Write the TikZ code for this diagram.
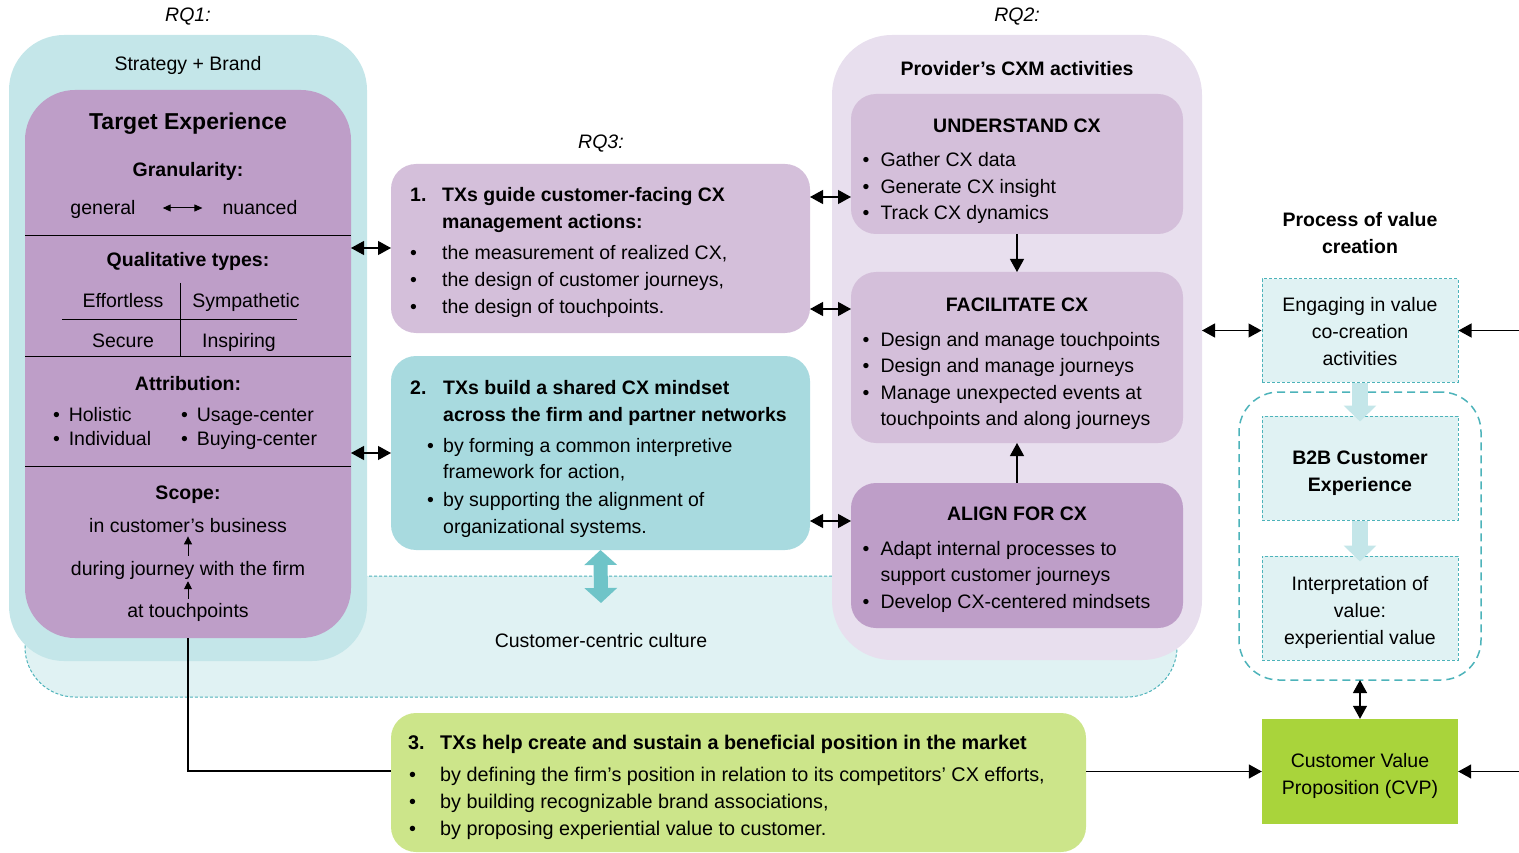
\documentclass[tikz,border=0pt]{standalone}
\usepackage{fontspec}
\setmainfont{Liberation Sans}
\usetikzlibrary{arrows.meta,positioning,calc}
\definecolor{sbteal}{HTML}{C4E6E9}
\definecolor{provbg}{HTML}{E8DFEE}
\definecolor{mauve}{HTML}{BE9EC8}
\definecolor{lilac}{HTML}{D4BFDA}
\definecolor{aqua}{HTML}{A8DADF}
\definecolor{lime}{HTML}{CCE58A}
\definecolor{grass}{HTML}{A9D43B}
\definecolor{cultfill}{HTML}{E0F2F3}
\definecolor{cult}{HTML}{4DB3BA}
\definecolor{fatteal}{HTML}{6FC4C8}
\tikzset{panel/.style={rounded corners=25pt,inner sep=0pt,outer sep=0pt},txt/.style={inner sep=0pt,anchor=base,font=\fontsize{19.5}{27}\selectfont},hd/.style={txt,font=\fontsize{19.5}{27}\selectfont\bfseries},lst/.style={txt,anchor=base west},plst/.style={lst,font=\fontsize{19.5}{26.5}\selectfont},pbox/.style={draw=cult,dash pattern=on 3pt off 2pt,line width=1pt,fill=cultfill,inner sep=0pt,minimum width=196pt,minimum height=104pt},link/.style={{Triangle[length=13pt,width=14pt]}-{Triangle[length=13pt,width=14pt]},line width=1.2pt},flow/.style={-{Triangle[length=13pt,width=14pt]},line width=1.2pt},tiny/.style={-{Triangle[length=8pt,width=8pt]},line width=1pt},tinyd/.style={{Triangle[length=8pt,width=7pt]}-{Triangle[length=8pt,width=7pt]},line width=1pt},fat/.style={line width=14pt,draw=fatteal,{Triangle[length=15pt,width=32pt]}-{Triangle[length=15pt,width=32pt]}},fatl/.style={line width=16pt,draw=sbteal,-{Triangle[length=16pt,width=32pt]}}}
\begin{document}
\begin{tikzpicture}[x=1pt,y=-1pt]
\useasboundingbox (0,0) rectangle (1519,853);
% back panels
\node[panel,rounded corners=50pt,fill=cultfill,draw=cult,dash pattern=on 3pt off 2pt,line width=1pt,minimum width=1152pt,minimum height=121pt] (cult) at (601,636.5) {};
\node[panel,rounded corners=55pt,fill=sbteal,minimum width=358pt,minimum height=626pt] (sb) at (188,348) {};
\node[panel,rounded corners=60pt,fill=provbg,minimum width=370pt,minimum height=625pt] (prov) at (1017,347.5) {};
\node[panel,rounded corners=50pt,fill=mauve,minimum width=326pt,minimum height=548pt] (te) at (188,364) {};
\node[panel,fill=lilac,minimum width=419pt,minimum height=169pt] (t1) at (600.5,248.5) {};
\node[panel,fill=aqua,minimum width=419pt,minimum height=194pt] (t2) at (600.5,453) {};
\node[panel,fill=lime,minimum width=695pt,minimum height=139pt] (t3) at (738.5,782.5) {};
\node[panel,fill=lilac,minimum width=332pt,minimum height=140pt] (und) at (1017,164) {};
\node[panel,fill=lilac,minimum width=332pt,minimum height=171pt] (fac) at (1017,357.5) {};
\node[panel,fill=mauve,minimum width=332pt,minimum height=145pt] (ali) at (1017,555.5) {};
\node[panel,rounded corners=40pt,draw=cult,dash pattern=on 8pt off 5pt,line width=1.5pt,minimum width=242pt,minimum height=288pt] (cont) at (1360,536) {};
\node[pbox,minimum height=103pt] (eng) at (1360,330.5) {};
\node[pbox] (b2b) at (1360,468) {};
\node[pbox] (interp) at (1360,608) {};
\node[fill=grass,inner sep=0pt,minimum width=196pt,minimum height=105pt] (cvp) at (1360,771.5) {};
% headings
\node[txt,font=\fontsize{19.5}{27}\selectfont\itshape] (rq1) at (188,22) {RQ1:};
\node[txt,font=\fontsize{19.5}{27}\selectfont\itshape] (rq2) at (1017,22) {RQ2:};
\node[txt,font=\fontsize{19.5}{27}\selectfont\itshape] (rq3) at (601,149) {RQ3:};
\node[txt] (sbt) at (188,71) {Strategy + Brand};
% target experience
\node[txt,font=\fontsize{23}{27}\selectfont\bfseries] (tet) at (188,130) {Target Experience};
\node[hd] (gra) at (188,177) {Granularity:};
\node[txt] (gen) at (103,215) {general};
\node[txt] (nua) at (260,215) {nuanced};
\draw[tinyd] ([xshift=27pt,yshift=7pt]gen.base east) -- ([xshift=-20pt,yshift=7pt]nua.base west);
\draw[line width=1pt] (te.west|-0,236) -- (te.east|-0,236);
\node[hd] (qual) at (188,267) {Qualitative types:};
\node[txt] (q1) at (123,308) {Effortless};
\node[txt] (q2) at (246,308) {Sympathetic};
\node[txt] (q3) at (123,348) {Secure};
\node[txt] (q4) at (239,348) {Inspiring};
\draw[line width=1pt] (180,283) -- (180,356) (62,319) -- (297,319);
\draw[line width=1pt] (te.west|-0,356) -- (te.east|-0,356);
\node[hd] (attr) at (188,390) {Attribution:};
\node[lst] (a1) at (53,421) {\textbullet\hspace{0.45em}Holistic};
\node[lst] (a2) at (53,445) {\textbullet\hspace{0.45em}Individual};
\node[lst] (a3) at (181,421) {\textbullet\hspace{0.45em}Usage-center};
\node[lst] (a4) at (181,445) {\textbullet\hspace{0.45em}Buying-center};
\draw[line width=1pt] (te.west|-0,466) -- (te.east|-0,466);
\node[hd] (scope) at (188,499) {Scope:};
\node[txt] (s1) at (188,532) {in customer's business};
\node[txt] (s2) at (188,575) {during journey with the firm};
\node[txt] (s3) at (188,617) {at touchpoints};
\draw[tiny] ([yshift=5pt]s2.north) -- ([yshift=-4pt]s1.south);
\draw[tiny] ([yshift=4pt]s3.north) -- ([yshift=-2pt]s2.south);
% RQ3 boxes
\node[lst] (t1x) at (410,202) {\begin{tabular}[t]{@{}p{32pt}@{}l@{}}\textbf{1.}&\textbf{TXs guide customer-facing CX}\\&\textbf{management actions:}\\[4pt]\textbullet&the measurement of realized CX,\\\textbullet&the design of customer journeys,\\\textbullet&the design of touchpoints.\end{tabular}};
\node[lst] (t2x) at (410,394) {\begin{tabular}[t]{@{}p{33pt}@{}l@{}}\textbf{2.}&\textbf{TXs build a shared CX mindset}\\&\textbf{across the firm and partner networks}\\[4pt]\hspace{17pt}\textbullet&by forming a common interpretive\\&framework for action,\\\hspace{17pt}\textbullet&by supporting the alignment of\\&organizational systems.\end{tabular}};
\node[lst,font=\fontsize{19.8}{27}\selectfont] (t3x) at (408,749) {\begin{tabular}[t]{@{}p{32pt}@{}l@{}}\textbf{3.}&\textbf{TXs help create and sustain a beneficial position in the market}\\[5pt]\hspace{1pt}\textbullet&by defining the firm's position in relation to its competitors' CX efforts,\\\hspace{1pt}\textbullet&by building recognizable brand associations,\\\hspace{1pt}\textbullet&by proposing experiential value to customer.\end{tabular}};
\node[txt] (cultx) at (601,647) {Customer-centric culture};
% provider
\node[hd] (provt) at (1017,76) {Provider's CXM activities};
\node[hd] (undt) at (1017,133) {UNDERSTAND CX};
\node[plst] (undx) at (862.5,167) {\begin{tabular}[t]{@{}l@{\hspace{11pt}}l@{}}\textbullet&Gather CX data\\\textbullet&Generate CX insight\\\textbullet&Track CX dynamics\end{tabular}};
\node[hd] (fact) at (1017,312) {FACILITATE CX};
\node[plst] (facx) at (862.5,346) {\begin{tabular}[t]{@{}l@{\hspace{11pt}}l@{}}\textbullet&Design and manage touchpoints\\\textbullet&Design and manage journeys\\\textbullet&Manage unexpected events at\\&touchpoints and along journeys\end{tabular}};
\node[hd] (alit) at (1017,520) {ALIGN FOR CX};
\node[plst] (alix) at (862.5,555) {\begin{tabular}[t]{@{}l@{\hspace{11pt}}l@{}}\textbullet&Adapt internal processes to\\&support customer journeys\\\textbullet&Develop CX-centered mindsets\end{tabular}};
% value creation
\node[hd] (pvc) at (1360,227) {\begin{tabular}[t]{@{}c@{}}Process of value\\creation\end{tabular}};
\node[txt] (engx) at (1360,312) {\begin{tabular}[t]{@{}c@{}}Engaging in value\\co-creation\\activities\end{tabular}};
\node[hd] (b2bx) at (1360,464) {\begin{tabular}[t]{@{}c@{}}B2B Customer\\Experience\end{tabular}};
\node[txt] (intx) at (1360,590) {\begin{tabular}[t]{@{}c@{}}Interpretation of\\value:\\experiential value\end{tabular}};
\node[txt] (cvpx) at (1360,767) {\begin{tabular}[t]{@{}c@{}}Customer Value\\Proposition (CVP)\end{tabular}};
\coordinate (in1) at (1519,330.5);
\coordinate (in2) at (1519,771.5);
\coordinate (cc) at (601,603);
% connectors
\draw[link] (te.east|-0,248) -- (t1.west|-0,248);
\draw[link] (te.east|-t2) -- (t2.west);
\draw[link] (t1.east|-0,197) -- (und.west|-0,197);
\draw[link] (t1.east|-0,309) -- (fac.west|-0,309);
\draw[link] (t2.east|-0,521) -- (ali.west|-0,521);
\draw[flow] (und.south) -- (fac.north);
\draw[flow] (ali.north) -- (fac.south);
\draw[fat] (t2.south) -- (cc);
\draw[link] (prov.east|-eng) -- (eng.west);
\draw[flow] (in1) -- (eng.east);
\draw[fatl] (eng.south) -- ([yshift=-6pt]b2b.north);
\draw[fatl] (b2b.south) -- ([yshift=-6pt]interp.north);
\draw[link] (cont.south) -- (cvp.north);
\draw[flow] (in2) -- (cvp.east);
\draw[flow] (t3.east|-cvp) -- (cvp.west);
\draw[line width=1.2pt] (te.south) |- ([yshift=11.5pt]t3.west);
\end{tikzpicture}
\end{document}
